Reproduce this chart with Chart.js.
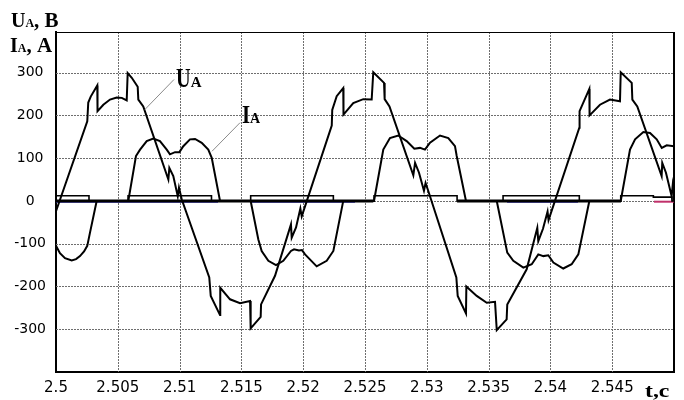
<!DOCTYPE html>
<html>
<head>
<meta charset="utf-8">
<script src="https://cdn.jsdelivr.net/npm/chart.js@4"></script>
<style>
  html, body { margin: 0; padding: 0; background: #fff; }
  canvas { display: block; }
</style>
</head>
<body>
<canvas id="c" width="684" height="400"></canvas>
<script>
// ---- tick labels ----
const xTicks = [2.5, 2.505, 2.51, 2.515, 2.52, 2.525, 2.53, 2.535, 2.54, 2.545];
const xTickLabels = ['2.5', '2.505', '2.51', '2.515', '2.52', '2.525', '2.53', '2.535', '2.54', '2.545'];
const yTicks = [-300, -200, -100, 0, 100, 200, 300];
const yTickLabels = ['-300', '-200', '-100', '0', '100', '200', '300'];
const xMin = 2.5, xMax = 2.55, yMin = -400, yMax = 395;

// ---- U_A (voltage, V) ----
const uaT = [2.50000, 2.50253, 2.50261, 2.50281, 2.50334, 2.50336, 2.50383, 2.50437, 2.50491, 2.50532,
  2.50572, 2.50580, 2.50613, 2.50661, 2.50666, 2.50706, 2.50909, 2.50917, 2.50949, 2.50985,
  2.50995, 2.51017, 2.51240, 2.51252, 2.51327, 2.51329, 2.51408, 2.51489, 2.51570, 2.51575,
  2.51656, 2.51659, 2.51772, 2.51901, 2.51907, 2.51942, 2.51977, 2.51988, 2.52231, 2.52235,
  2.52271, 2.52324, 2.52326, 2.52405, 2.52486, 2.52554, 2.52567, 2.52654, 2.52659, 2.52698,
  2.52891, 2.52905, 2.52937, 2.52977, 2.52990, 2.53010, 2.53239, 2.53250, 2.53317, 2.53320,
  2.53404, 2.53485, 2.53552, 2.53566, 2.53646, 2.53651, 2.53808, 2.53894, 2.53902, 2.53940,
  2.53977, 2.53985, 2.54234, 2.54236, 2.54315, 2.54317, 2.54401, 2.54482, 2.54563, 2.54569,
  2.54658, 2.54663, 2.54703, 2.54900, 2.54905, 2.54935, 2.54981, 2.54990, 2.55000];
const uaV = [-24, 186, 230, 244, 270, 210, 225, 237, 242, 241,
  235, 299, 288, 267, 237, 221, 50, 77, 58, 11,
  31, 4, -179, -222, -267, -203, -230, -239, -234, -298,
  -271, -242, -175, -55, -86, -62, -18, -36, 176, 213,
  245, 264, 202, 229, 238, 237, 301, 276, 238, 221,
  60, 89, 66, 24, 42, 25, -179, -222, -263, -200,
  -222, -238, -236, -302, -277, -242, -160, -63, -94, -65,
  -25, -45, 171, 210, 262, 200, 225, 237, 233, 301,
  276, 237, 221, 58, 89, 66, 11, 38, 20];

// ---- I_A (current, A) ----
const iaT = [2.50000, 2.50032, 2.50073, 2.50127, 2.50162, 2.50194, 2.50227, 2.50253, 2.50275, 2.50329,
  2.50585, 2.50647, 2.50680, 2.50734, 2.50787, 2.50841, 2.50896, 2.50922, 2.50963, 2.50998,
  2.51030, 2.51084, 2.51125, 2.51179, 2.51232, 2.51260, 2.51327,
  2.51575, 2.51637, 2.51664, 2.51718, 2.51780, 2.51839, 2.51901, 2.51926, 2.51966, 2.51990,
  2.52015, 2.52109, 2.52190, 2.52244, 2.52324,
  2.52573, 2.52648, 2.52702, 2.52769, 2.52837, 2.52899, 2.52945, 2.52985, 2.53026, 2.53107,
  2.53174, 2.53228, 2.53242, 2.53317,
  2.53566, 2.53651, 2.53700, 2.53781, 2.53849, 2.53902, 2.53943, 2.53983, 2.54024, 2.54104,
  2.54172, 2.54226, 2.54315,
  2.54569, 2.54644, 2.54685, 2.54752, 2.54806, 2.54860, 2.54901, 2.54941, 2.55000];
const iaV = [-105, -122, -134, -139, -136, -129, -118, -105, -74, 0,
  0, 105, 120, 140, 146, 140, 120, 109, 114, 114,
  128, 144, 145, 136, 120, 101, 0,
  0, -90, -117, -140, -150, -140, -117, -113, -116, -115,
  -125, -153, -140, -117, 0,
  0, 120, 147, 153, 140, 122, 124, 120, 136, 153,
  147, 128, 105, 0,
  0, -121, -140, -156, -148, -125, -129, -127, -144, -158,
  -148, -125, 0,
  0, 120, 144, 161, 159, 144, 124, 130, 128];

// ---- switching pulse trace ----
const pulseT = [2.50000, 2.50267, 2.50267, 2.50583, 2.50583, 2.51258, 2.51258, 2.51575, 2.51575, 2.52244,
  2.52244, 2.52573, 2.52573, 2.53245, 2.53245, 2.53617, 2.53617, 2.54234, 2.54234, 2.54569,
  2.54569, 2.54833, 2.54833, 2.54984, 2.54984, 2.55000];
const pulseV = [12, 12, 0, 0, 12, 12, 0, 0, 12, 12,
  0, 0, 12, 12, 0, 0, 12, 12, 0, 0,
  12, 12, 9, 9, 0, 0];

// ---- zero-level traces ----
const zeroT = [2.50000, 2.52567, 2.52900, 2.53245, 2.54571];
const zeroV = [0, 0, null, 0, 0];
const blueT = [2.50000, 2.51311, 2.51450, 2.51578, 2.52419, 2.53000, 2.53649, 2.54223];
const blueV = [-1.8, -1.8, null, -1.8, -1.8, null, -1.8, -1.8];
const magT = [2.54838, 2.55000];
const magV = [-1.8, -1.8];

const pts = (T, V) => T.map((t, i) => ({ x: t, y: V[i] }));

function richText(ctx, x, y, parts) {
  ctx.save();
  ctx.fillStyle = '#000';
  ctx.textBaseline = 'alphabetic';
  ctx.textAlign = 'left';
  let cx = x;
  for (const [t, size, sx] of parts) {
    ctx.font = 'bold ' + size + 'px "Liberation Serif", "Times New Roman", serif';
    ctx.save();
    ctx.translate(cx, y);
    ctx.scale(sx, 1);
    ctx.fillText(t, 0, 0);
    ctx.restore();
    cx += ctx.measureText(t).width * sx;
  }
  ctx.restore();
}

const deco = {
  id: 'deco',
  beforeDatasetsDraw(chart) {
    const { ctx, chartArea: a } = chart;
    const xs = chart.scales.x, ys = chart.scales.y;
    ctx.save();
    // dotted grid
    ctx.strokeStyle = '#6e6e6e';
    ctx.lineWidth = 1;
    ctx.setLineDash([2, 1]);
    ctx.beginPath();
    xTicks.forEach(v => {
      const p = Math.round(xs.getPixelForValue(v)) + 0.5;
      if (p > a.left + 2 && p < a.right - 1) { ctx.moveTo(p, a.top); ctx.lineTo(p, a.bottom); }
    });
    yTicks.forEach(v => {
      const p = Math.round(ys.getPixelForValue(v)) + 0.5;
      ctx.moveTo(a.left, p); ctx.lineTo(a.right, p);
    });
    ctx.stroke();
    ctx.setLineDash([]);
    // frame top / right
    ctx.strokeStyle = '#000';
    ctx.lineWidth = 1;
    ctx.beginPath();
    ctx.moveTo(a.left, Math.round(a.top) + 0.5);
    ctx.lineTo(a.right, Math.round(a.top) + 0.5);
    ctx.stroke();
    ctx.lineWidth = 2;
    ctx.beginPath();
    ctx.moveTo(Math.round(a.right), a.top);
    ctx.lineTo(Math.round(a.right), a.bottom);
    ctx.stroke();
    ctx.restore();
  },
  afterDraw(chart) {
    const { ctx } = chart;
    const xs = chart.scales.x, ys = chart.scales.y;
    const px = (t) => xs.getPixelForValue(t);
    const py = (v) => ys.getPixelForValue(v);
    // axis titles
    richText(ctx, 11, 27, [['U', 20, 1], ['A', 12, 1], [', B', 20, 1.05]]);
    richText(ctx, 10, 52, [['I', 20, 1], ['A', 12, 1], [', A', 20, 1.05]]);
    richText(ctx, 645, 397, [['t,c', 19, 1.25]]);
    // leader lines
    ctx.save();
    ctx.strokeStyle = '#8a8a8a';
    ctx.lineWidth = 1;
    ctx.beginPath();
    ctx.moveTo(px(2.50720), py(214));
    ctx.lineTo(px(2.50955), py(284));
    ctx.moveTo(px(2.51262), py(116));
    ctx.lineTo(px(2.51489), py(183));
    ctx.stroke();
    ctx.restore();
    // curve labels
    richText(ctx, px(2.50971), py(267), [['U', 27, 0.75], ['A', 15, 1]]);
    richText(ctx, px(2.51505), py(183), [['I', 26, 0.8], ['A', 14, 1]]);
  }
};

const lineDs = (label, data, color, width, order) => ({
  label, data, borderColor: color, borderWidth: width, pointRadius: 0,
  tension: 0, fill: false, spanGaps: false, order
});

new Chart(document.getElementById('c'), {
  type: 'line',
  data: {
    datasets: [
      lineDs('blue', pts(blueT, blueV), '#3a3ad0', 2, 6),
      lineDs('magenta', pts(magT, magV), '#c0306a', 2, 6),
      lineDs('zero', pts(zeroT, zeroV), '#000', 3, 5),
      lineDs('pulse', pts(pulseT, pulseV), '#000', 1.6, 4),
      lineDs('IA', pts(iaT, iaV), '#000', 2, 2),
      lineDs('UA', pts(uaT, uaV), '#000', 2, 1)
    ]
  },
  options: {
    responsive: false,
    animation: false,
    layout: { padding: { top: 32, right: 10, left: 0, bottom: 0 } },
    plugins: { legend: { display: false }, tooltip: { enabled: false } },
    scales: {
      x: {
        type: 'linear',
        min: xMin, max: xMax,
        afterFit: (s) => { s.height = 28; },
        afterBuildTicks: (s) => { s.ticks = xTicks.map(v => ({ value: v })); },
        ticks: {
          padding: 7,
          color: '#000',
          font: { family: '"DejaVu Sans", sans-serif', size: 15 },
          maxRotation: 0,
          autoSkip: false,
          callback: (v, i) => xTickLabels[i]
        },
        grid: { display: false, drawTicks: false },
        border: { display: true, color: '#000', width: 2 }
      },
      y: {
        type: 'linear',
        min: yMin, max: yMax,
        afterFit: (s) => { s.width = 56; },
        afterBuildTicks: (s) => { s.ticks = yTicks.map(v => ({ value: v })); },
        ticks: {
          padding: 10,
          crossAlign: 'center',
          color: '#000',
          font: { family: '"DejaVu Sans", sans-serif', size: 14 },
          autoSkip: false,
          callback: (v, i) => yTickLabels[i]
        },
        grid: { display: false, drawTicks: false },
        border: { display: true, color: '#000', width: 2 }
      }
    }
  },
  plugins: [deco]
});
</script>
</body>
</html>
